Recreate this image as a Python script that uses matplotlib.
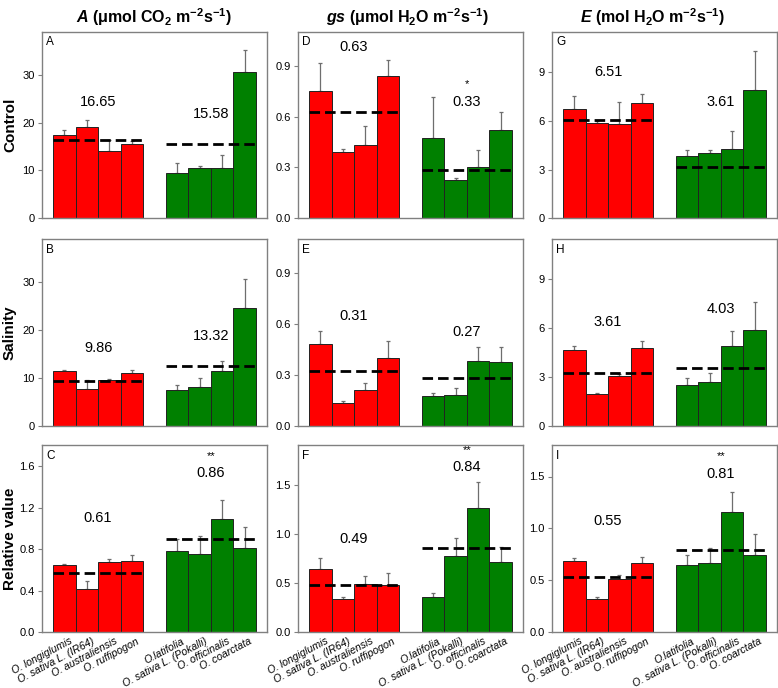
import numpy as np
import matplotlib
matplotlib.use("Agg")
import matplotlib.pyplot as plt

plt.rcParams["font.family"] = ["Liberation Sans", "DejaVu Sans"]
plt.rcParams["mathtext.fontset"] = "custom"
plt.rcParams["mathtext.rm"] = "Liberation Sans"
plt.rcParams["mathtext.bf"] = "Liberation Sans:bold"
plt.rcParams["mathtext.it"] = "Liberation Sans:italic"
plt.rcParams["mathtext.bfit"] = "Liberation Sans:bold:italic"

especies = [
    "O. longiglumis", "O. sativa L. (IR64)", "O. australiensis", "O. ruffipogon",
    "O.latifolia", "O. sativa L. (Pokalli)", "O. officinalis", "O. coarctata",
]

# Control
a_control = [17.5, 19.0, 14.0, 15.6, 9.4, 10.6, 10.5, 30.6]
a_control_err = [1.0, 1.5, 2.3, 0.5, 2.1, 0.3, 2.7, 4.6]
gs_control = [0.748, 0.393, 0.434, 0.836, 0.476, 0.227, 0.301, 0.523]
gs_control_err = [0.168, 0.018, 0.108, 0.097, 0.238, 0.008, 0.100, 0.101]
e_control = [6.75, 5.87, 5.83, 7.10, 3.85, 4.01, 4.25, 7.93]
e_control_err = [0.80, 0.13, 1.31, 0.57, 0.38, 0.22, 1.11, 2.36]

# Salinity
a_sal = [11.3, 7.72, 9.52, 10.9, 7.45, 8.0, 11.45, 24.55]
a_sal_err = [0.3, 1.73, 0.28, 0.8, 1.1, 1.93, 1.95, 6.15]
gs_sal = [0.48, 0.133, 0.212, 0.40, 0.172, 0.177, 0.378, 0.374]
gs_sal_err = [0.077, 0.011, 0.038, 0.10, 0.018, 0.043, 0.082, 0.086]
e_sal = [4.63, 1.95, 3.05, 4.76, 2.52, 2.70, 4.92, 5.91]
e_sal_err = [0.25, 0.08, 0.10, 0.44, 0.41, 0.55, 0.89, 1.69]

# Relative value
a_rel = [0.65, 0.41, 0.678, 0.688, 0.778, 0.752, 1.088, 0.81]
a_rel_err = [0.006, 0.08, 0.022, 0.052, 0.12, 0.178, 0.182, 0.20]
gs_rel = [0.64, 0.338, 0.486, 0.48, 0.355, 0.77, 1.26, 0.71]
gs_rel_err = [0.11, 0.02, 0.088, 0.12, 0.045, 0.19, 0.27, 0.155]
e_rel = [0.685, 0.322, 0.513, 0.666, 0.646, 0.666, 1.156, 0.745]
e_rel_err = [0.028, 0.012, 0.041, 0.057, 0.099, 0.144, 0.194, 0.205]

# group mean lines (red group, green group)
media_grupo = {
    "A": [16.4, 15.6], "D": [0.628, 0.284], "G": [6.07, 3.17],
    "B": [9.24, 12.34], "E": [0.32, 0.28], "H": [3.23, 3.54],
    "C": [0.573, 0.90], "F": [0.48, 0.855], "I": [0.535, 0.79],
}
# annotated numbers and their heights
rotulos = {
    "A": (["16.65", "15.58"], [24.3, 21.9]),
    "D": (["0.63", "0.33"], [1.01, 0.685]),
    "G": (["6.51", "3.61"], [9.0, 7.16]),
    "B": (["9.86", "13.32"], [16.3, 18.76]),
    "E": (["0.31", "0.27"], [0.643, 0.553]),
    "H": (["3.61", "4.03"], [6.38, 7.15]),
    "C": (["0.61", "0.86"], [1.10, 1.53]),
    "F": (["0.49", "0.84"], [0.95, 1.675]),
    "I": (["0.55", "0.81"], [1.07, 1.52]),
}
asteriscos = {"D": ("*", 0.79), "C": ("**", 1.70), "F": ("**", 1.85), "I": ("**", 1.70)}

paineis = [
    [("A", a_control, a_control_err, 39, [0, 10, 20, 30], "%d"),
     ("D", gs_control, gs_control_err, 1.1, [0, 0.3, 0.6, 0.9], "%.1f"),
     ("G", e_control, e_control_err, 11.5, [0, 3, 6, 9], "%d")],
    [("B", a_sal, a_sal_err, 39, [0, 10, 20, 30], "%d"),
     ("E", gs_sal, gs_sal_err, 1.1, [0, 0.3, 0.6, 0.9], "%.1f"),
     ("H", e_sal, e_sal_err, 11.5, [0, 3, 6, 9], "%d")],
    [("C", a_rel, a_rel_err, 1.8, [0, 0.4, 0.8, 1.2, 1.6], "%.1f"),
     ("F", gs_rel, gs_rel_err, 1.9, [0, 0.5, 1.0, 1.5], "%.1f"),
     ("I", e_rel, e_rel_err, 1.8, [0, 0.5, 1.0, 1.5], "%.1f")],
]

linhas = ["Control", "Salinity", "Relative value"]
titulos = [
    r"$\mathbfit{A}$ $\mathbf{(\mu mol\ CO_2\ m^{-2}s^{-1})}$",
    r"$\mathbfit{gs}$ $\mathbf{(\mu mol\ H_2O\ m^{-2}s^{-1})}$",
    r"$\mathbfit{E}$ $\mathbf{(mol\ H_2O\ m^{-2}s^{-1})}$",
]

pos_x = np.array([0, 1, 2, 3, 5, 6, 7, 8])
cores = ["#FF0000"] * 4 + ["#008000"] * 4

fig = plt.figure(figsize=(7.78, 6.88), dpi=100)
lefts = [41.7, 297.7, 551.7]
bottoms = [469.7, 262.5, 56.0]
W, H = 778.0, 688.0

for i in range(3):
    for j in range(3):
        letra, valores, erros, ymax, yticks, fmt = paineis[i][j]
        ax = fig.add_axes([lefts[j] / W, bottoms[i] / H, 225.5 / W, 186.6 / H])
        ax.bar(pos_x, valores, width=1.0, color=cores, edgecolor="#222222", linewidth=0.7, zorder=2)
        ax.errorbar(pos_x, valores, yerr=[np.zeros(8), erros], fmt="none",
                    ecolor="#6e6e6e", elinewidth=0.9, capsize=1.5, capthick=0.9, zorder=1)
        m = media_grupo[letra]
        ax.plot([-0.5, 3.5], [m[0], m[0]], color="k", lw=2.0, dashes=(3.8, 1.8), zorder=3)
        ax.plot([4.5, 8.5], [m[1], m[1]], color="k", lw=2.0, dashes=(3.8, 1.8), zorder=3)
        txts, ys = rotulos[letra]
        ax.text(1.5, ys[0], txts[0], ha="center", va="center", fontsize=10.5)
        ax.text(6.5, ys[1], txts[1], ha="center", va="center", fontsize=10.5)
        if letra in asteriscos:
            s, ysig = asteriscos[letra]
            ax.text(6.5, ysig, s, ha="center", va="center", fontsize=8)
        ax.text(0.02, 0.975, letra, transform=ax.transAxes, ha="left", va="top", fontsize=8.5)

        ax.set_xlim(-1, 9)
        ax.set_ylim(0, ymax)
        ax.set_yticks(yticks)
        ax.set_yticklabels([fmt % t for t in yticks])
        for sp in ax.spines.values():
            sp.set_color("#808080")
            sp.set_linewidth(1.0)
        ax.tick_params(axis="y", direction="out", length=3, width=0.8, color="#808080",
                       labelsize=8, pad=2)
        if i == 2:
            ax.set_xticks(pos_x + 0.2)
            ax.set_xticklabels(especies, rotation=28, ha="right", va="top",
                               rotation_mode="anchor", fontsize=7.6, style="italic")
            ax.tick_params(axis="x", length=0, pad=3)
        else:
            ax.set_xticks([])

        if j == 0:
            fig.text(10 / W, (bottoms[i] + 93.3) / H, linhas[i], rotation=90,
                     ha="center", va="center", fontsize=11, fontweight="bold")

centros_titulo = [154, 407, 652]
for j in range(3):
    fig.text(centros_titulo[j] / W, 1 - 17 / H, titulos[j], ha="center", va="center", fontsize=11.5)

fig.savefig("out.png", dpi=100)
